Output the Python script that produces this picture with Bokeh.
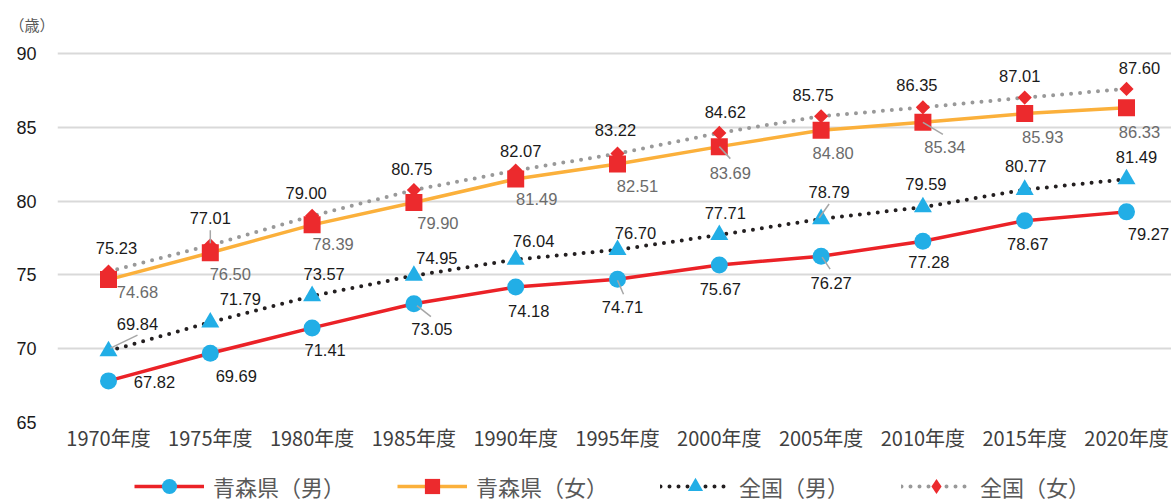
from bokeh.plotting import figure
from bokeh.layouts import column
from bokeh.models import Range1d, FixedTicker, Legend, LegendItem
from bokeh.core.properties import value
from bokeh.embed import file_html
from bokeh.resources import INLINE

# ---- data ----
years = ["1970年度", "1975年度", "1980年度", "1985年度", "1990年度", "1995年度",
         "2000年度", "2005年度", "2010年度", "2015年度", "2020年度"]
aomori_m = [67.82, 69.69, 71.41, 73.05, 74.18, 74.71, 75.67, 76.27, 77.28, 78.67, 79.27]
aomori_f = [74.68, 76.50, 78.39, 79.90, 81.49, 82.51, 83.69, 84.80, 85.34, 85.93, 86.33]
national_m = [69.84, 71.79, 73.57, 74.95, 76.04, 76.70, 77.71, 78.79, 79.59, 80.77, 81.49]
national_f = [75.23, 77.01, 79.00, 80.75, 82.07, 83.22, 84.62, 85.75, 86.35, 87.01, 87.60]
names = ["青森県（男）", "青森県（女）", "全国（男）", "全国（女）"]
y_ticks = [65, 70, 75, 80, 85, 90]
unit = "（歳）"

# ---- layout constants ----
W, H = 1171, 462
LH = 40
ML, MR, MT, MB = 57, 0, 40, 40
XR = (-0.501, 10.442)
YR = (65, 90.88)
PXX = (W - ML - MR) / (XR[1] - XR[0])
PXY = (H - MT - MB) / (YR[1] - YR[0])

xs = list(range(len(years)))

p = figure(width=W, height=H, x_range=Range1d(*XR), y_range=Range1d(*YR),
           output_backend="svg", toolbar_location=None,
           min_border_left=ML, min_border_right=MR, min_border_top=MT, min_border_bottom=MB)
p.outline_line_color = None
p.background_fill_color = "white"
p.border_fill_color = "white"
p.xgrid.visible = False
p.ygrid.grid_line_color = "#d9d9d9"
p.ygrid.grid_line_width = 2

p.title.text = unit
p.title.align = "left"
p.title.offset = -48
p.title.standoff = 12
p.title.text_font = "Noto Sans CJK JP"
p.title.text_font_size = "15px"
p.title.text_font_style = "normal"
p.title.text_color = "#595959"

p.yaxis.ticker = FixedTicker(ticks=y_ticks)
p.xaxis.ticker = FixedTicker(ticks=xs)
p.xaxis.major_label_overrides = {i: years[i] for i in xs}
for ax in (p.xaxis[0], p.yaxis[0]):
    ax.axis_line_color = None
    ax.major_tick_line_color = None
    ax.minor_tick_line_color = None
p.yaxis.major_label_text_font = "Liberation Sans"
p.yaxis.major_label_text_font_size = "18px"
p.yaxis.major_label_text_color = "#1a1a1a"
p.yaxis.major_label_standoff = 15
p.xaxis.major_label_text_font = "Noto Sans CJK JP"
p.xaxis.major_label_text_font_size = "20px"
p.xaxis.major_label_text_color = "#404040"
p.xaxis.major_label_standoff = -6

RED = "#EB2227"
ORANGE = "#FBB03B"
BLUE = "#22AEE6"
MRED = "#EC2A2D"
DOT = "0 9"

styles = [
    dict(line_color=RED, line_width=3.5),
    dict(line_color=ORANGE, line_width=3.5),
    dict(line_color="#231F20", line_width=4, line_dash=DOT, line_cap="round"),
    dict(line_color="#999999", line_width=4, line_dash=DOT, line_cap="round"),
]

# series lines and markers
p.line(xs, aomori_m, **styles[0])
p.line(xs, aomori_f, **styles[1])
p.line(xs, national_m, **styles[2])
p.line(xs, national_f, **styles[3])

p.scatter(xs, aomori_m, marker="circle", size=17, fill_color=BLUE, line_color=None)
p.scatter(xs, national_m, marker="triangle", size=18, fill_color=BLUE, line_color=None)
p.scatter(xs, national_f, marker="square", size=10, angle=0.785398, fill_color=MRED, line_color=None)
p.scatter(xs, aomori_f, marker="square", size=17, fill_color=MRED, line_color=None)

# ---- data labels (pixel offsets; +dy = downward) ----
off_am = [(46, 1), (26, 23), (13, 22), (18, 25), (13, 24), (5, 28), (1, 24), (10, 27), (6, 21), (3, 23), (22, 22)]
off_af = [(29, 12), (20, 21), (21, 19), (24, 20), (21, 20), (20, 22), (11, 26), (12, 23), (22, 25), (18, 23), (13, 24)]
off_nm = [(29, -27), (30, -23), (12, -22), (23, -18), (18, -19), (18, -17), (6, -22), (8, -27), (3, -23), (1, -24), (10, -22)]
off_nf = [(8, -24), (0, -27), (-6, -23), (-2, -21), (5, -20), (-2, -24), (6, -21), (-8, -21), (-6, -22), (-5, -22), (13, -21)]

# leader lines: (series, index, start offset, end offset)
leaders = [
    (aomori_m, 3, (3, 2), (17, 13)),
    (aomori_m, 5, (0, 1), (6, 15)),
    (aomori_m, 7, (1, 1), (9, 13)),
    (national_m, 0, (2, -3), (29, -16)),
    (national_m, 7, (-2, -1), (8, -15)),
    (aomori_f, 6, (0, 0), (11, 12)),
    (aomori_f, 8, (0, 0), (20, 12)),
    (national_f, 1, (0, -2), (0, -15)),
]
x0 = [i + a[0] / PXX for s, i, a, b in leaders]
y0 = [s[i] - a[1] / PXY for s, i, a, b in leaders]
x1 = [i + b[0] / PXX for s, i, a, b in leaders]
y1 = [s[i] - b[1] / PXY for s, i, a, b in leaders]
p.segment(x0, y0, x1, y1, line_color="#a6a6a6", line_width=1.5)


def labels(vals, offs, color):
    lx = [i + o[0] / PXX for i, o in zip(xs, offs)]
    ly = [v - o[1] / PXY for v, o in zip(vals, offs)]
    p.text(lx, ly, text=[f"{v:.2f}" for v in vals], text_align="center", text_baseline="middle",
           text_font=value("Liberation Sans"), text_font_size="16.5px", text_color=color)


labels(aomori_m, off_am, "#1a1a1a")
labels(aomori_f, off_af, "#6b6b6b")
labels(national_m, off_nm, "#1a1a1a")
labels(national_f, off_nf, "#1a1a1a")

# ---- legend strip (swatches only; placeholder NaN points are not drawn) ----
lf = figure(width=W, height=LH, output_backend="svg", toolbar_location=None,
            x_axis_location=None, y_axis_location=None, min_border=0,
            x_range=Range1d(0, 1), y_range=Range1d(0, 1))
lf.outline_line_color = None
lf.xgrid.visible = False
lf.ygrid.visible = False
nan = float("nan")
markers = [("circle", BLUE), ("square", MRED), ("triangle", BLUE), ("diamond", MRED)]
items = []
for name, st, (mk, mc) in zip(names, styles, markers):
    rl = lf.line([nan], [nan], **st)
    rm = lf.scatter([nan], [nan], marker=mk, fill_color=mc, line_color=None)
    items.append(LegendItem(label=name, renderers=[rl, rm]))

legend = Legend(items=items, orientation="horizontal", location=(77, -3),
                glyph_width=70, glyph_height=38, label_standoff=9, spacing=52,
                padding=0, margin=0, border_line_color=None, background_fill_alpha=0,
                label_text_font="Noto Sans CJK JP", label_text_font_size="22px",
                label_text_color="#595959")
lf.add_layout(legend, "center")

open("out.html", "w").write(file_html(column(p, lf, spacing=0), INLINE))
